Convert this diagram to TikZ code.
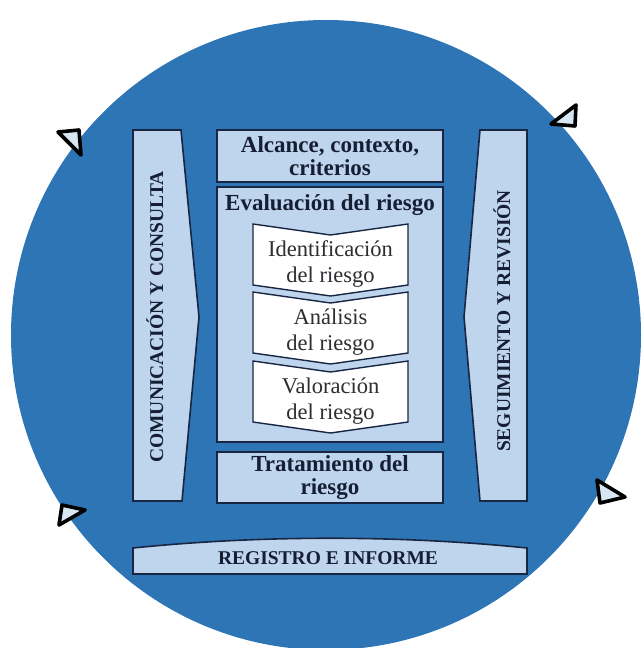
\documentclass[tikz,border=0pt]{standalone}
\usepackage{fontspec}
\setmainfont{Liberation Serif}
\usepackage{tikz}
\usetikzlibrary{calc}
\definecolor{disco}{RGB}{46,117,182}
\definecolor{celeste}{RGB}{190,213,237}
\definecolor{marino}{RGB}{24,38,68}
\definecolor{tinta}{RGB}{22,30,52}
\definecolor{gris}{RGB}{45,45,50}

\begin{document}
\begin{tikzpicture}[x=1pt,y=-1pt,
  caja/.style={draw=marino,fill=celeste,line width=1.6pt},
  titulo/.style={text=tinta,font=\bfseries\fontsize{23}{23.5}\selectfont,align=center,inner sep=0pt},
  lema/.style={text=tinta,font=\bfseries\fontsize{19.5}{20}\selectfont,inner sep=0pt},
  paso/.style={text=gris,font=\fontsize{22.5}{26}\selectfont,align=center,inner sep=0pt},
  punta/.style={draw=black,fill=celeste!60!white,line width=3.6pt,line join=round}]
\useasboundingbox (0,0) rectangle (641,648);
\fill[disco] (326,335) circle (315pt);

\draw[punta] (58,132)--(79,130)--(81,155)--cycle;
\draw[punta] (551,124)--(576,105)--(575,126)--cycle;
\draw[punta] (62,505)--(85,510)--(59,525)--cycle;
\draw[punta] (597,480)--(625,497)--(600,503)--cycle;

\draw[caja] (133,130)--(181,130)--(199,317)--(182,501)--(133,501)--cycle;
\draw[caja] (480,130)--(527,130)--(527,501)--(480,501)--(464,317)--cycle;
\draw[caja] (133,548) .. controls (260,535) and (400,535) .. (527,548)--(527,574)--(133,574)--cycle;
\node[lema,rotate=90,anchor=base] (comunicacion) at (163,317) {COMUNICACIÓN Y CONSULTA};
\node[lema,rotate=90,anchor=base] (seguimiento) at (510,321) {SEGUIMIENTO Y REVISIÓN};
\node[lema,anchor=base] (registro) at (328,564) {REGISTRO E INFORME};

\node[caja,titulo,minimum width=226,minimum height=52] (alcance) at (330,156) {Alcance, contexto,\\criterios};
\node[caja,minimum width=226,minimum height=255] (evaluacion) at (330,314.5) {};
\node[titulo,anchor=base] (evaltitulo) at (330,210) {Evaluación del riesgo};
\node[caja,titulo,minimum width=226,minimum height=51] (tratamiento) at (330,477.5) {Tratamiento del\\riesgo};

\foreach \y/\txt/\nom in {224/Identificación/ident,292/Análisis/analisis,361/Valoración/valor}{
  \draw[marino,fill=white,line width=1.4pt] (253,\y)--(330.5,\y+11)--(408,\y)--(408,\y+61)--(330.5,\y+72)--(253,\y+61)--cycle;
  \node[paso] (\nom) at (330.5,\y+40) {\txt\\del riesgo};
}
\end{tikzpicture}
\end{document}
